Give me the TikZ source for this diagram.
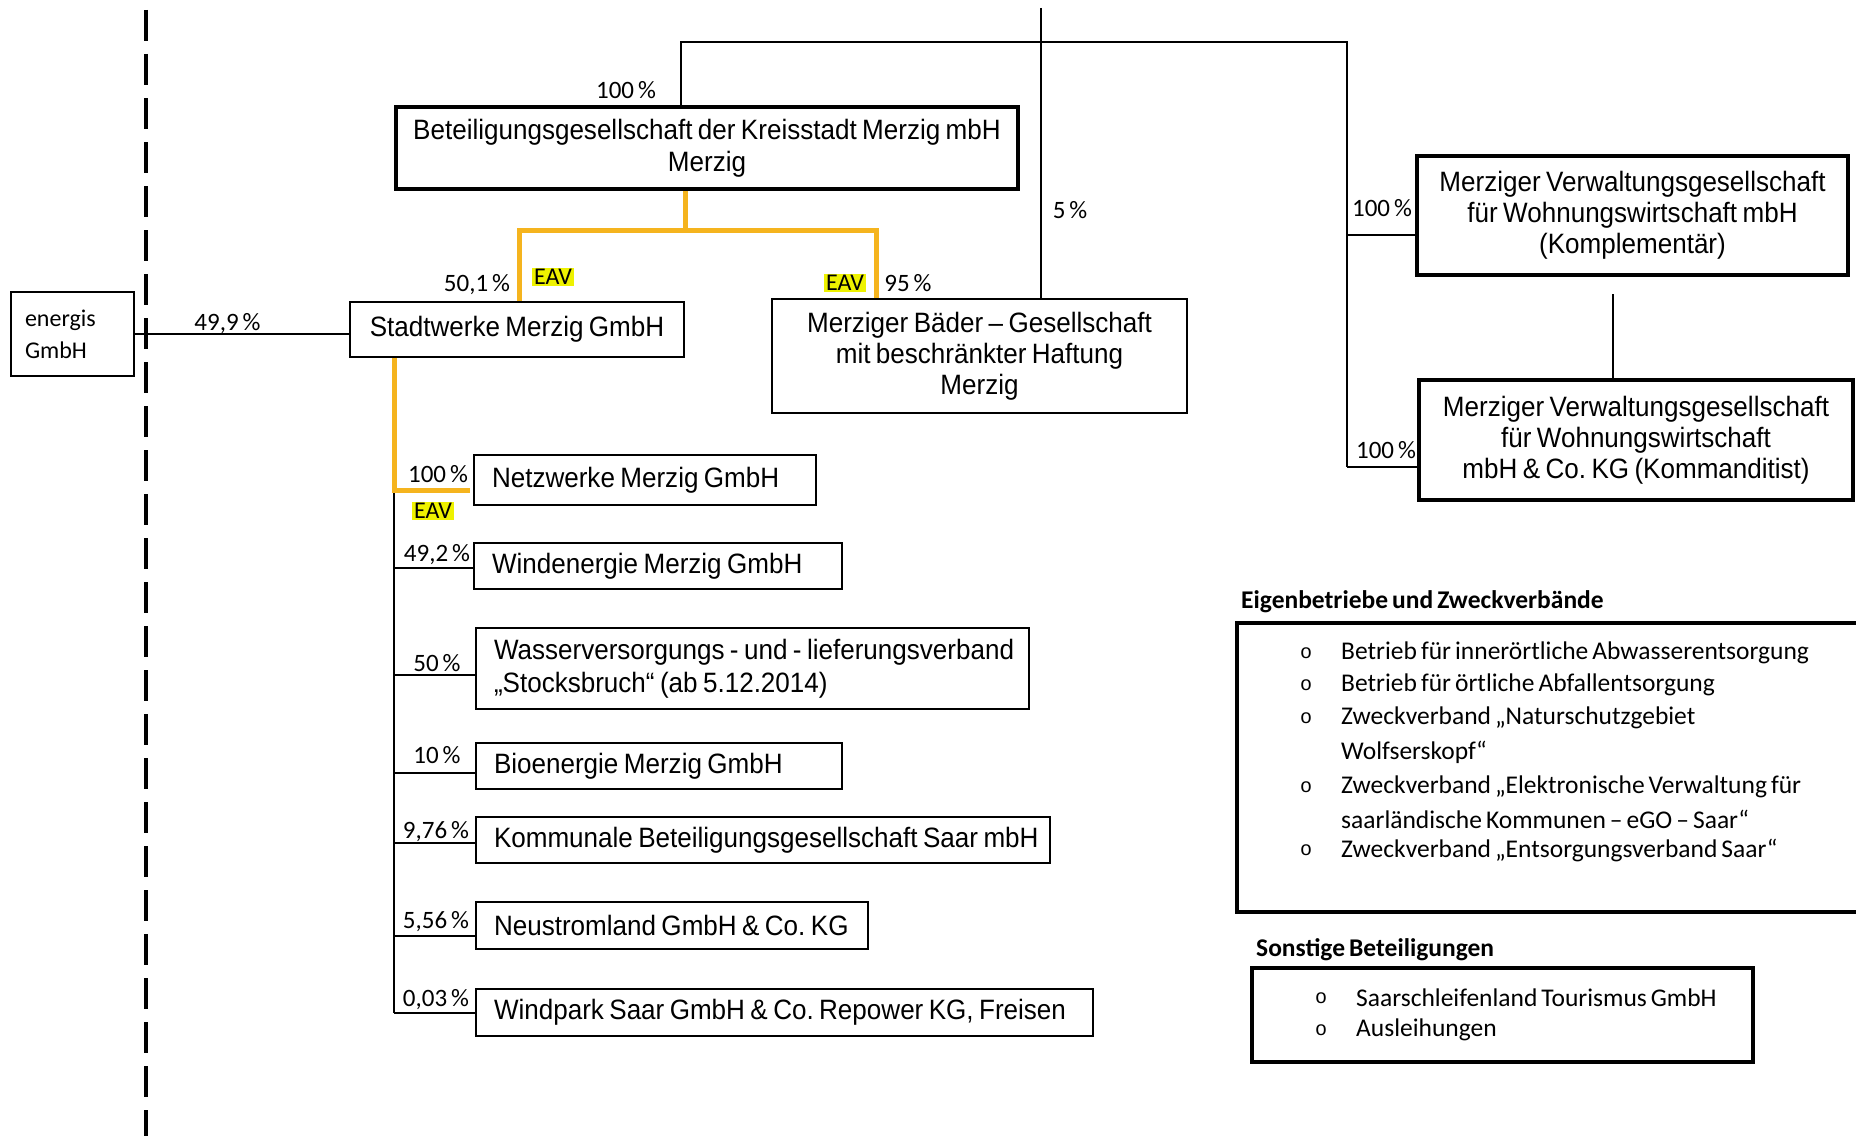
\documentclass[tikz,border=0pt]{standalone}
\usepackage{fontspec}
\setmainfont{Liberation Sans}
\newfontfamily\nar{Liberation Sans}[FakeStretch=0.93, WordSpace=0.75]
\newfontfamily\calib{Carlito}
\newfontfamily\calibt{Carlito}[WordSpace=0.7]
\newfontfamily\monof{Liberation Mono}
\definecolor{gold}{RGB}{245,180,30}
\definecolor{hl}{RGB}{238,242,0}
\frenchspacing
\newcommand{\lbtext}[1]{\mbox{\spaceskip=0pt\xspaceskip=0pt #1}}
\begin{document}
\begin{tikzpicture}[x=1pt,y=-1pt,
  box/.style={draw, line width=1.8pt, inner sep=0pt, font=\nar\fontsize{28}{31}\selectfont, align=center},
  tbox/.style={box, line width=4pt},
  lbox/.style={box, align=left, inner xsep=18pt, inner ysep=0pt},
  pct/.style={inner sep=0pt, font=\calib\fontsize{25}{30}\selectfont},
  eav/.style={fill=hl, inner xsep=2pt, inner ysep=1pt, font=\calib\fontsize{24}{28}\selectfont},
  conn/.style={line width=1.6pt},
  yel/.style={draw=gold, line width=5pt},
  item/.style={anchor=west, inner sep=0pt, font=\calibt\fontsize{25.5}{30}\selectfont},
  bul/.style={anchor=center, inner sep=0pt, font=\monof\fontsize{20}{24}\selectfont},
  head/.style={anchor=west, inner sep=0pt, font=\calibt\bfseries\fontsize{25.5}{28}\selectfont},
]
\useasboundingbox[fill=white] (0,0) rectangle (1856,1140);

% dashed boundary
\coordinate (d1) at (146,10);
\coordinate (d2) at (146,1136);
\draw[line width=3.5pt, dash pattern=on 31pt off 13pt] (d1) -- (d2);

% boxes
\node[box, minimum width=123pt, minimum height=84pt, text width=95pt, align=left, font=\calib\fontsize{24}{32}\selectfont] (en) at (72.5,334) {energis\\GmbH};
\node[box, minimum width=334pt, minimum height=55pt] (sw) at (517,329.5) {Stadtwerke Merzig GmbH};
\node[tbox, minimum width=622pt, minimum height=82pt, font=\nar\fontsize{28}{32}\selectfont] (bet) at (707,148) {Beteiligungsgesellschaft der Kreisstadt Merzig mbH\\Merzig};
\node[box, minimum width=415pt, minimum height=114pt, font=\nar\fontsize{28}{31}\selectfont] (bd) at (979.5,356) {Merziger Bäder – Gesellschaft\\mit beschränkter Haftung\\Merzig};
\node[tbox, minimum width=431pt, minimum height=119pt] (kpl) at (1632.5,215.5) {Merziger Verwaltungsgesellschaft\\für Wohnungswirtschaft mbH\\(Komplementär)};
\node[tbox, minimum width=434pt, minimum height=120pt] (kmd) at (1636,440) {Merziger Verwaltungsgesellschaft\\für Wohnungswirtschaft\\mbH \& Co. KG (Kommanditist)};

\node[lbox, text width=306pt, minimum height=50pt] (nw) at (645,480) {\lbtext{Netzwerke Merzig GmbH}};
\node[lbox, text width=332pt, minimum height=46pt] (wind) at (658,566) {\lbtext{Windenergie Merzig GmbH}};
\node[lbox, text width=517pt, minimum height=81pt, font=\nar\fontsize{28}{33}\selectfont] (was) at (752.5,668.5) {\lbtext{Wasserversorgungs - und - lieferungsverband}\\\lbtext{„Stocksbruch“ (ab 5.12.2014)}};
\node[lbox, text width=330pt, minimum height=46pt] (bio) at (659,766) {\lbtext{Bioenergie Merzig GmbH}};
\node[lbox, text width=538pt, minimum height=46pt] (kom) at (763,840) {\lbtext{Kommunale Beteiligungsgesellschaft Saar mbH}};
\node[lbox, text width=356pt, minimum height=47pt] (neu) at (672,925.5) {\lbtext{Neustromland GmbH \& Co. KG}};
\node[lbox, text width=581pt, minimum height=47pt] (wp) at (784.5,1012.5) {\lbtext{Windpark Saar GmbH \& Co. Repower KG, Freisen}};

% labels
\node[pct] (p499) at (227.5,324) {49,9 \%};
\node[pct] (p100a) at (626,90) {100 \%};
\node[pct] (p501) at (477,285) {50,1 \%};
\node[eav] (e1) at (553,277) {EAV};
\node[eav] (e2) at (845,283) {EAV};
\node[pct] (p95) at (908,283) {95 \%};
\node[pct] (p5) at (1070,210) {5 \%};
\node[pct] (p100b) at (1382,208) {100 \%};
\node[pct] (p100c) at (1386,450) {100 \%};
\node[pct] (p100d) at (438,474) {100 \%};
\node[eav] (e3) at (433,511) {EAV};
\node[pct] (p492) at (437,555) {49,2 \%};
\node[pct] (p50) at (437,663) {50 \%};
\node[pct] (p10) at (437,755) {10 \%};
\node[pct] (p976) at (436,832) {9,76 \%};
\node[pct] (p556) at (436,922) {5,56 \%};
\node[pct] (p003) at (436,1000) {0,03 \%};

% top connectors
\coordinate (tl) at (681,42);
\coordinate (tr) at (1347,42);
\coordinate (tm) at (1041,8);
\coordinate (rk) at (1347,235);
\coordinate (rb) at (1347,467);
\coordinate (kx) at (1613,300);
\draw[conn] (tl |- bet.north) -- (tl) -- (tr) -- (rb);
\draw[conn] (tm) -- (tm |- bd.north);
\draw[conn] (rk) -- (rk -| kpl.west);
\draw[conn] (rb) -- (rb -| kmd.west);
\draw[conn, shorten <=17pt] (kx |- kpl.south) -- (kx |- kmd.north);
\draw[conn] (en.east) -- (en.east -| sw.west);

% trunk under Stadtwerke
\coordinate (t0) at (394,490);
\coordinate (c1) at (394,568);
\coordinate (c2) at (394,675);
\coordinate (c3) at (394,773);
\coordinate (c4) at (394,843);
\coordinate (c5) at (394,936);
\coordinate (c6) at (394,1013);
\draw[conn] (t0) -- (c6);
\draw[conn] (c1) -- (c1 -| wind.west);
\draw[conn] (c2) -- (c2 -| was.west);
\draw[conn] (c3) -- (c3 -| bio.west);
\draw[conn] (c4) -- (c4 -| kom.west);
\draw[conn] (c5) -- (c5 -| neu.west);
\draw[conn] (c6) -- (c6 -| wp.west);

% yellow EAV lines
\coordinate (ya) at (685,230);
\coordinate (ysw) at (519.5,230);
\coordinate (ybd) at (876,230);
\draw[yel] (ya |- bet.south) -- (ya);
\draw[yel] (ysw |- sw.north) -- (ysw) -- (ybd) -- (ybd |- bd.north);
\draw[yel, shorten >=3pt] (t0 |- sw.south) -- (t0) -- (t0 -| nw.west);

% Eigenbetriebe
\node[head] (eigh) at (1241,602) {Eigenbetriebe und Zweckverbände};
\node[draw, line width=4pt, inner sep=0pt, minimum width=623pt, minimum height=289pt] (eig) at (1548.5,767.5) {};
\node[bul] (b1) at (1306,653) {o};
\node[item] (i1) at (1341,653) {Betrieb für innerörtliche Abwasserentsorgung};
\node[bul] (b2) at (1306,685) {o};
\node[item] (i2) at (1341,685) {Betrieb für örtliche Abfallentsorgung};
\node[bul] (b3) at (1306,718) {o};
\node[item] (i3) at (1341,718) {Zweckverband „Naturschutzgebiet};
\node[item] (i3b) at (1341,752) {Wolfserskopf“};
\node[bul] (b4) at (1306,787) {o};
\node[item] (i4) at (1341,787) {Zweckverband „Elektronische Verwaltung für};
\node[item] (i4b) at (1341,819) {saarländische Kommunen – eGO – Saar“};
\node[bul] (b5) at (1306,850) {o};
\node[item] (i5) at (1341,850) {Zweckverband „Entsorgungsverband Saar“};

% Sonstige
\node[head] (sonh) at (1256,950) {Sonstige Beteiligungen};
\node[draw, line width=4pt, inner sep=0pt, minimum width=501pt, minimum height=94pt] (son) at (1502.5,1015) {};
\node[bul] (s1b) at (1321,998) {o};
\node[item] (s1) at (1356,998) {Saarschleifenland Tourismus GmbH};
\node[bul] (s2b) at (1321,1030) {o};
\node[item] (s2) at (1356,1030) {Ausleihungen};
\end{tikzpicture}
\end{document}
